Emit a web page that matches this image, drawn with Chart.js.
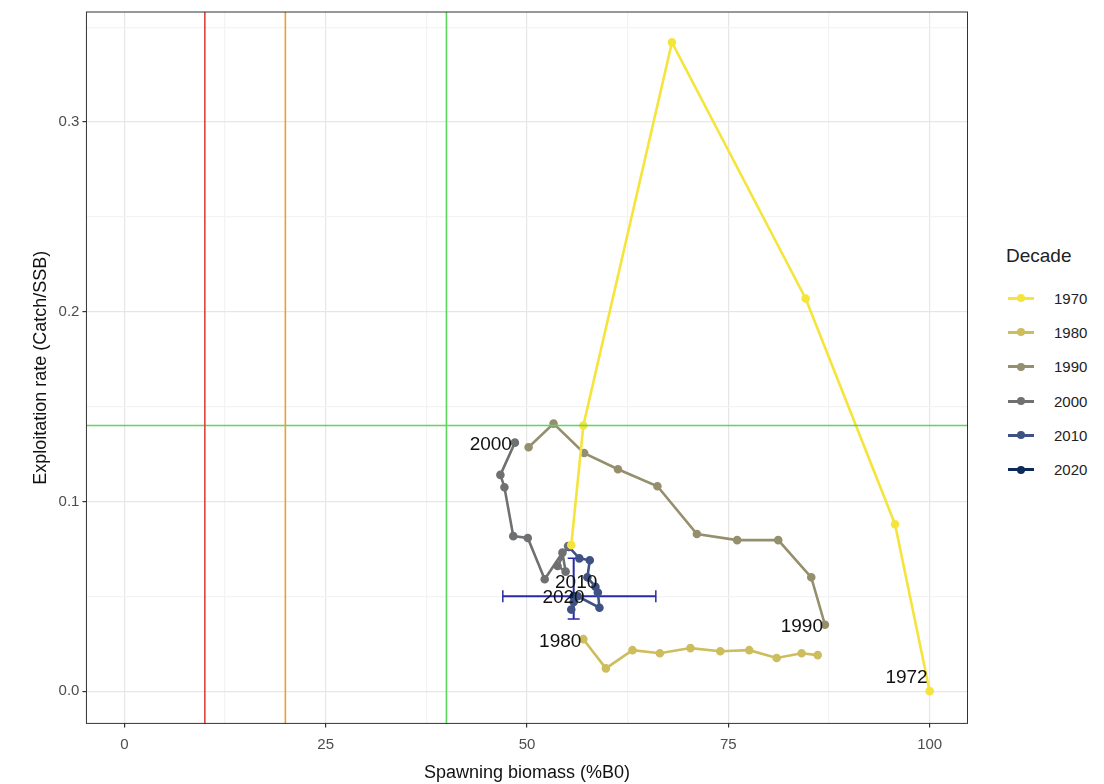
<!DOCTYPE html>
<html><head><meta charset="utf-8">
<script src="https://cdn.jsdelivr.net/npm/chart.js@4"></script>
<style>
body{margin:0;background:#fff;font-family:"Liberation Sans",Arial,sans-serif;}
#wrap{position:absolute;left:0;top:0;width:975px;height:784px;}
#leg{position:absolute;left:1008px;top:245px;font-size:15px;color:#222;}
#leg .t{font-size:19px;margin-bottom:14px;margin-left:-2px}
#leg .r{height:34.3px;display:flex;align-items:center}
#leg .k{width:26px;height:3px;position:relative;margin-right:20px}
#leg .k:after{content:"";position:absolute;left:9px;top:-2.5px;width:8px;height:8px;border-radius:50%;background:inherit}
</style></head><body>
<div id="wrap"><canvas id="c"></canvas></div>
<div id="leg"></div>
<script>
const decades=["1970","1980","1990","2000","2010","2020"];
const colors=["#f5e43c","#cdbd5c","#958f6e","#6f7072","#3f5284","#0c2a5a"];
const x1970=[100,95.7,84.6,68,57,55.5];
const y1970=[0,0.088,0.207,0.342,0.14,0.077];
const x1980=[57,59.8,63.1,66.5,70.3,74,77.6,81,84.1,86.1];
const y1980=[0.0274,0.012,0.0216,0.020,0.0227,0.021,0.0216,0.0175,0.020,0.019];
const x1990=[87,85.3,81.2,76.1,71.1,66.2,61.3,57.1,53.3,50.2];
const y1990=[0.035,0.060,0.0796,0.0796,0.0828,0.108,0.117,0.1255,0.141,0.1286];
const x2000=[48.5,46.7,47.2,48.3,50.1,52.2,54.4,54.8,53.8,55.1];
const y2000=[0.131,0.114,0.1075,0.0817,0.0807,0.059,0.073,0.063,0.066,0.0765];
const x2010=[55.2,56.5,57.8,57.5,58.5,58.8,59,56.3,55.8,55.5];
const y2010=[0.076,0.070,0.069,0.060,0.055,0.052,0.044,0.050,0.047,0.043];
const x2020=[55.8];const y2020=[0.050];
const errX=[47,66];const errY=[0.038,0.07];
const refV=[10,20,40];const refVcol=["#d9453a","#e8a033","#5cd65c"];
const refH=0.14;
const labels=[["1972",100,0],["1980",57,0.0274],["1990",87,0.035],["2000",48.5,0.131],["2010",56,0.053],["2020",55.8,0.05]];
const xs=[x1970,x1980,x1990,x2000,x2010,x2020],ys=[y1970,y1980,y1990,y2000,y2010,y2020];
const pts=(a,b)=>a.map((v,i)=>({x:v,y:b[i]}));
const ds=[];
refV.forEach((v,i)=>ds.push({data:[{x:v,y:-1},{x:v,y:1}],borderColor:refVcol[i],borderWidth:1.6,pointRadius:0,showLine:true}));
ds.push({data:[{x:-10,y:refH},{x:110,y:refH}],borderColor:"#5cd65c",borderWidth:1.6,pointRadius:0,showLine:true});
decades.forEach((d,i)=>ds.push({data:pts(xs[i],ys[i]),borderColor:colors[i],backgroundColor:colors[i],borderWidth:2.6,pointRadius:3,showLine:true}));
ds.push({data:[{x:errX[0],y:y2020[0]},{x:errX[1],y:y2020[0]}],borderColor:"#2a2aa8",borderWidth:2,showLine:true,pointStyle:"line",rotation:90,pointRadius:6,pointBorderWidth:1.5});
ds.push({data:[{x:x2020[0],y:errY[0]},{x:x2020[0],y:errY[1]}],borderColor:"#2a2aa8",borderWidth:2,showLine:true,pointStyle:"line",rotation:0,pointRadius:6,pointBorderWidth:1.5});
const lab={id:"lab",afterDatasetsDraw(c){const ctx=c.ctx,xa=c.scales.x,ya=c.scales.y;ctx.save();ctx.font="19px 'Liberation Sans',Arial";ctx.fillStyle="#111";ctx.textAlign="right";ctx.textBaseline="middle";
labels.forEach(l=>{let px=xa.getPixelForValue(l[1]),py=ya.getPixelForValue(l[2]);let dx=-2,dy=0;
if(l[0]=="1972"){dx=-2;dy=-13;}if(l[0]=="1980"){dx=-2;dy=3;}if(l[0]=="1990"){dx=-2;dy=2;}if(l[0]=="2000"){dx=-3;dy=2;}if(l[0]=="2010"){dx=+22;dy=-8;}if(l[0]=="2020"){dx=+11;dy=+1;}
ctx.fillText(l[0],px+dx,py+dy);});ctx.restore();}};
const grid={id:"bd",afterDraw(c){const a=c.chartArea,ctx=c.ctx;ctx.save();ctx.strokeStyle="#333";ctx.lineWidth=1;ctx.strokeRect(a.left,a.top,a.right-a.left,a.bottom-a.top);ctx.restore();}};
const isMajX=v=>v%25===0, isMajY=v=>[0,0.1,0.2,0.3].some(t=>Math.abs(t-v)<1e-9);
new Chart(document.getElementById("c"),{type:"scatter",data:{datasets:ds},plugins:[lab,grid],
options:{responsive:true,maintainAspectRatio:false,animation:false,layout:{padding:{left:26,right:7,top:10,bottom:0}},
plugins:{legend:{display:false},tooltip:{enabled:false}},
scales:{x:{min:-4.7,max:104.7,afterBuildTicks(s){s.ticks=[0,12.5,25,37.5,50,62.5,75,87.5,100].map(v=>({value:v}));},
ticks:{color:"#4d4d4d",font:{size:15,family:"Liberation Sans"},padding:8,callback:v=>isMajX(v)?v:""},
grid:{color:c=>c.tick&&isMajX(c.tick.value)?"#e6e6e6":"#f3f3f3",lineWidth:1.2,drawTicks:true,tickColor:c=>c.tick&&isMajX(c.tick.value)?"#333":"rgba(0,0,0,0)",tickLength:4},border:{display:false},
title:{display:true,text:"Spawning biomass (%B0)",font:{size:18,family:"Liberation Sans"},color:"#111",padding:{top:1,bottom:0}}},
y:{min:-0.017,max:0.358,afterBuildTicks(s){s.ticks=[0,0.05,0.1,0.15,0.2,0.25,0.3,0.35].map(v=>({value:v}));},
ticks:{color:"#4d4d4d",font:{size:15,family:"Liberation Sans"},callback:v=>isMajY(v)?v.toFixed(1):""},
grid:{color:c=>c.tick&&isMajY(c.tick.value)?"#e6e6e6":"#f3f3f3",lineWidth:1.2,tickColor:c=>c.tick&&isMajY(c.tick.value)?"#333":"rgba(0,0,0,0)",tickLength:4},border:{display:false},
title:{display:true,text:"Exploitation rate (Catch/SSB)",font:{size:18,family:"Liberation Sans"},color:"#111"}}}}});
const leg=document.getElementById("leg");leg.innerHTML='<div class="t">Decade</div>'+decades.map((d,i)=>`<div class="r"><div class="k" style="background:${colors[i]}"></div>${d}</div>`).join("");
</script></body></html>
